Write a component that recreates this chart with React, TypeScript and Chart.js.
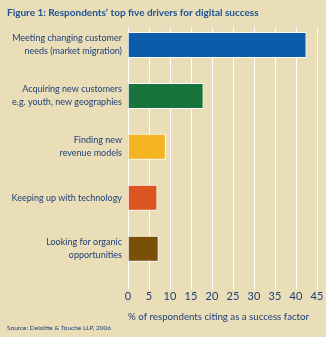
import React, { useEffect, useRef } from "react";
import { Chart, registerables } from "chart.js";

Chart.register(...registerables);

const categories: string[][] = [
  ["Meeting changing customer", "needs (market migration)"],
  ["Acquiring new customers", "e.g. youth, new geographies"],
  ["Finding new", "revenue models"],
  ["Keeping up with technology"],
  ["Looking for organic", "opportunities"],
];
const values: number[] = [42.5, 18, 9, 7, 7.3];
const barColors: string[] = ["#0B5CAB", "#17733A", "#F4B422", "#DC5420", "#7A4F08"];
const xTicks: number[] = [0, 5, 10, 15, 20, 25, 30, 35, 40, 45];
const titleText = "Figure 1: Respondents\u2019 top five drivers for digital success";
const axisTitle = "% of respondents citing as a success factor";
const sourceText = "Source: Deloitte & Touche LLP, 2006";

const BG = "#E9DEB8";
const NAVY = "#1D3E78";
const FONT = "Lato, 'DejaVu Sans', sans-serif";

const coverTop = {
  id: "coverTop",
  beforeDatasetsDraw(chart: any) {
    const { ctx, chartArea } = chart;
    ctx.save();
    ctx.fillStyle = BG;
    ctx.fillRect(chartArea.left - 1, chartArea.top - 1, chartArea.right - chartArea.left + 2, 9);
    ctx.restore();
  },
};

export default function App() {
  const ref = useRef<HTMLCanvasElement | null>(null);
  useEffect(() => {
    if (!ref.current) return;
    const chart = new Chart(ref.current, {
      type: "bar",
      data: {
        labels: categories,
        datasets: [
          {
            data: values,
            backgroundColor: barColors,
            borderColor: "#FFFFFF",
            borderWidth: 1,
            barPercentage: 0.51,
            categoryPercentage: 1,
          },
        ],
      },
      plugins: [coverTop],
      options: {
        indexAxis: "y",
        animation: false,
        responsive: false,
        devicePixelRatio: 1,
        layout: { padding: { left: 7, right: 9, top: 0, bottom: 0 } },
        plugins: {
          legend: { display: false },
          tooltip: { enabled: false },
          title: {
            display: true,
            text: titleText,
            align: "start",
            color: "#1C5293",
            font: { family: FONT, size: 10, weight: "bold" },
            padding: { top: 6.5, bottom: 1 },
          },
          subtitle: {
            display: true,
            text: sourceText,
            position: "bottom",
            align: "start",
            color: NAVY,
            font: { family: FONT, size: 6.5 },
            padding: { top: 0, bottom: 4.8 },
          },
        },
        scales: {
          x: {
            type: "linear",
            min: 0,
            max: 45,
            afterBuildTicks: (scale: any) => {
              scale.ticks = xTicks.map((v) => ({ value: v }));
            },
            ticks: {
              color: NAVY,
              font: { family: FONT, size: 11 },
              padding: 1,
              maxRotation: 0,
              autoSkip: false,
            },
            grid: {
              color: "#FFFFFF",
              lineWidth: 1,
              drawTicks: true,
              tickLength: 15,
              tickColor: "#FFFFFF",
            },
            border: { display: false },
            title: {
              display: true,
              text: axisTitle,
              align: "start",
              color: NAVY,
              font: { family: FONT, size: 9.7 },
              padding: { top: 6.6, bottom: 1.8 },
            },
          },
          y: {
            type: "category",
            afterFit: (scale: any) => {
              scale.width = 121;
            },
            ticks: {
              color: NAVY,
              font: { family: FONT, size: 9, lineHeight: 1.45 },
              padding: 6,
              autoSkip: false,
            },
            grid: { display: false, drawTicks: false },
            border: { display: false },
          },
        },
      },
    });
    return () => chart.destroy();
  }, []);
  return (
    <div style={{ position: "fixed", left: 0, top: 0, width: 326, height: 337, background: BG }}>
      <canvas ref={ref} width={326} height={337} style={{ display: "block" }} />
    </div>
  );
}
